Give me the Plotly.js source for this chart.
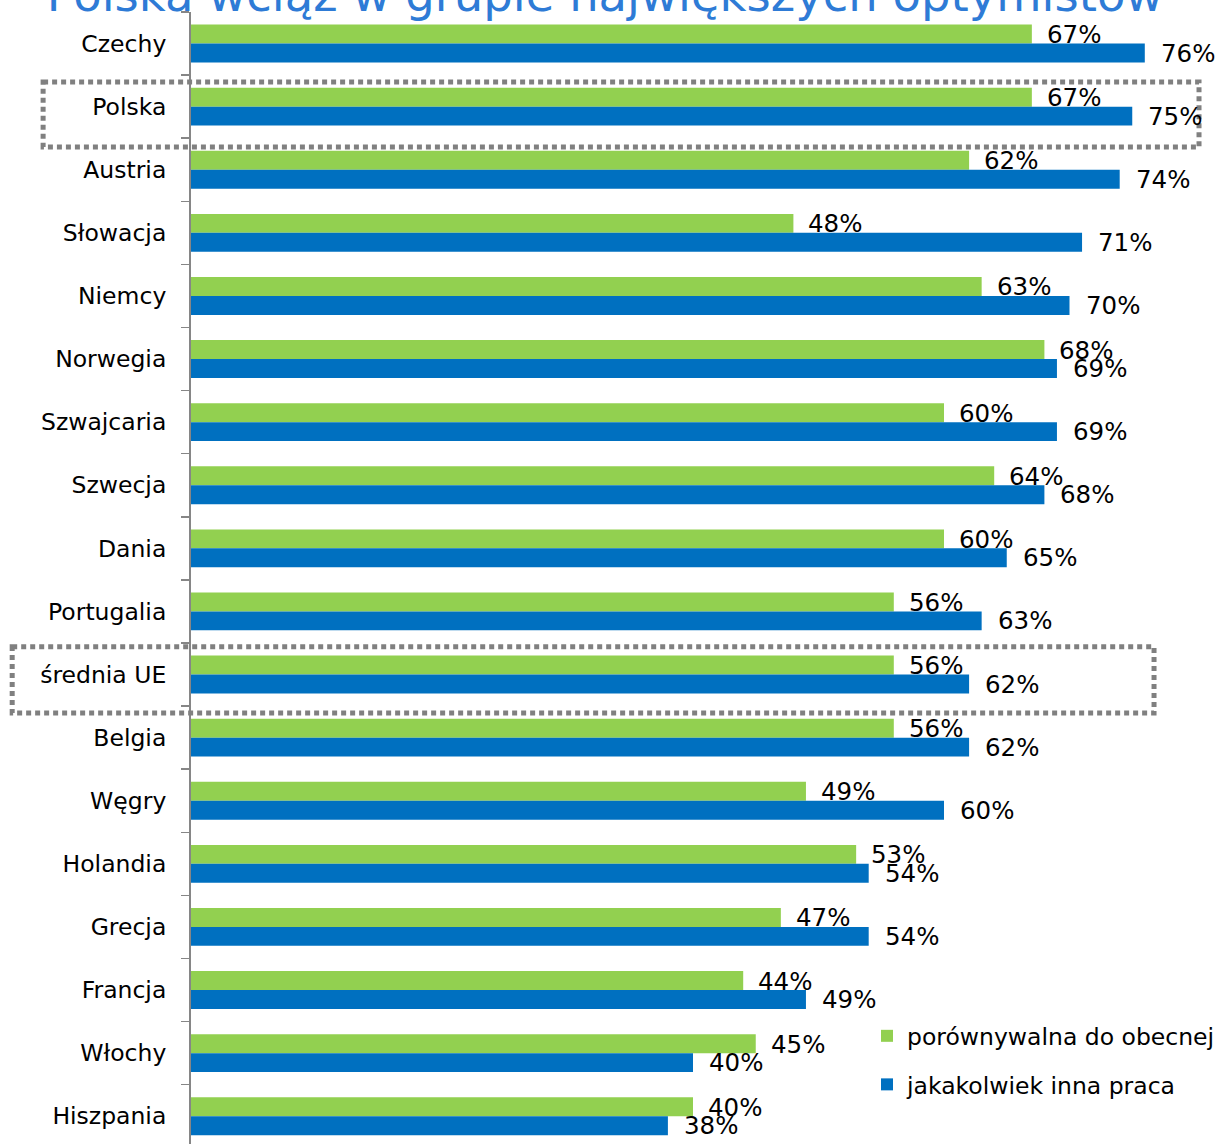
<!DOCTYPE html>
<html>
<head>
<meta charset="utf-8">
<script src="https://cdn.plot.ly/plotly-3.0.1.min.js"></script>
<style>html,body{margin:0;padding:0;background:#fff;}#chart{width:1220px;height:1144px;}</style>
</head>
<body>
<div id="chart"></div>
<script>
const categories = ["Czechy","Polska","Austria","Słowacja","Niemcy","Norwegia","Szwajcaria","Szwecja","Dania","Portugalia","średnia UE","Belgia","Węgry","Holandia","Grecja","Francja","Włochy","Hiszpania"];
const comparable = [67,67,62,48,63,68,60,64,60,56,56,56,49,53,47,44,45,40];
const anyJob = [76,75,74,71,70,69,69,68,65,63,62,62,60,54,54,49,40,38];
const seriesNames = ["porównywalna do obecnej","jakakolwiek inna praca"];
const titleText = "Polska wciąż w grupie największych optymistów";
const highlighted = ["Polska","średnia UE"];

const GREEN = "#92D050", BLUE = "#0070C0";
const FONT = "DejaVu Sans, Verdana, sans-serif";

const traces = [
  {type:"bar", orientation:"h", name:seriesNames[0], y:categories, x:comparable,
   marker:{color:GREEN}, legendgroup:"a", hoverinfo:"skip"},
  {type:"bar", orientation:"h", name:seriesNames[1], y:categories, x:anyJob,
   marker:{color:BLUE}, legendgroup:"b", hoverinfo:"skip"}
];

const annotations = [];
categories.forEach((c,i)=>{
  annotations.push({x:comparable[i], y:c, xref:"x", yref:"y", text:comparable[i]+"%", showarrow:false,
    xanchor:"left", yanchor:"middle", xshift:13, yshift:9, font:{family:FONT,size:24.5,color:"#000"}});
  annotations.push({x:anyJob[i], y:c, xref:"x", yref:"y", text:anyJob[i]+"%", showarrow:false,
    xanchor:"left", yanchor:"middle", xshift:14, yshift:-9.5, font:{family:FONT,size:24.5,color:"#000"}});
});

const boxes = [
  {cat:"Polska", x0:-0.1473, x1:1.004, d0:-0.39, d1:0.64},
  {cat:"średnia UE", x0:-0.1781, x1:0.9592, d0:-0.44, d1:0.61}
];
const shapes = boxes.map(b=>{
  const idx = categories.indexOf(b.cat);
  return {type:"rect", xref:"paper", yref:"y", x0:b.x0, x1:b.x1, y0:idx+b.d0, y1:idx+b.d1,
    line:{color:"#808080", width:5, dash:"5px,4px"}, fillcolor:"rgba(0,0,0,0)", layer:"above"};
});

const layout = {
  width:1220, height:1144,
  margin:{l:191, r:24, t:12, b:0},
  paper_bgcolor:"#fff", plot_bgcolor:"#fff",
  barmode:"group", bargap:0.4, bargroupgap:0,
  title:{text:titleText, font:{family:FONT, size:46.5, color:"#2E7BD6"},
    xref:"container", yref:"container", x:0.496, xanchor:"center", y:0.99, yanchor:"bottom"},
  xaxis:{range:[0,80], showgrid:false, zeroline:false, showticklabels:false, showline:false, ticks:""},
  yaxis:{type:"category", range:[17.44,-0.5], showgrid:false, zeroline:false,
    showline:true, linecolor:"#868686", linewidth:2,
    ticks:"outside", tickson:"boundaries", ticklen:8, tickwidth:1.5, tickcolor:"#868686",
    ticklabelstandoff:18,
    tickfont:{family:FONT, size:23.5, color:"#000"}},
  showlegend:true,
  legend:{x:0.6736, y:0.1148, xanchor:"left", yanchor:"top", traceorder:"grouped", tracegroupgap:15,
    bgcolor:"rgba(0,0,0,0)", font:{family:FONT, size:23.5, color:"#000"}},
  annotations:annotations,
  shapes:shapes
};

Plotly.newPlot("chart", traces, layout, {staticPlot:true, displayModeBar:false});
</script>
</body>
</html>
